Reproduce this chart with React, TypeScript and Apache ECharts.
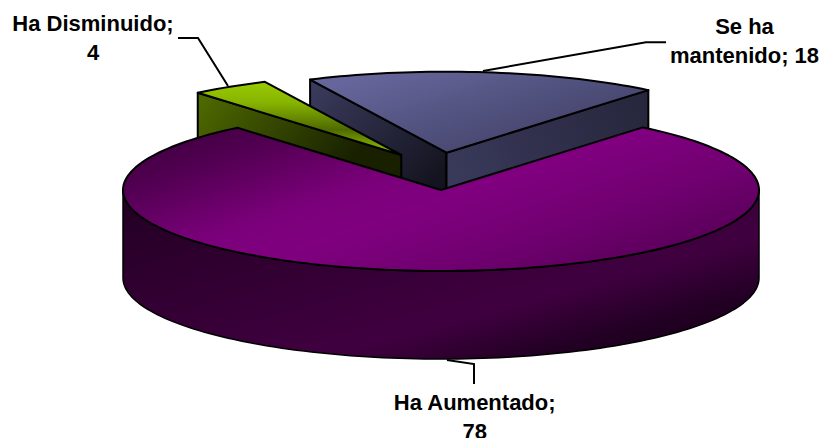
import React, { useEffect, useRef } from "react";
import * as echarts from "echarts";

const categories = ["Ha Aumentado", "Ha Disminuido", "Se ha mantenido"];
const values = [78, 4, 18];
const labelTexts = ["Ha Aumentado;\n78", "Ha Disminuido;\n4", "Se ha\nmantenido; 18"];

// Layout of the projected 3D pie
const CX = 441, CY = 190, RX = 318, RY = 81, DEPTH = 88, START_ANGLE = 50.6;
const explodes = [[0, 0], [-39.7, -35], [5.5, -37.3]];
const zOrders = [30, 20, 10];
const labelPositions = [[474.7, 416.5], [93, 37.5], [744.5, 41]];
const leaderLines = [
  [[447, 360], [474, 364], [474, 384]],
  [[178, 38], [198, 38], [228, 86]],
  [[666, 42.3], [646, 42.3], [483, 71]],
];

const grad = (x0: number, y0: number, x1: number, y1: number, stops: [number, string][]) =>
  new echarts.graphic.LinearGradient(x0, y0, x1, y1, stops.map(([offset, color]) => ({ offset, color })), true);

const topFills = [
  grad(200, 122, 294.5, 400, [
    [0, "#400040"],
    [0.13, "#500050"],
    [0.377, "#7a007a"],
    [0.516, "#800080"],
    [0.74, "#700070"],
    [0.89, "#600060"],
    [1, "#550055"],
  ]),
  grad(250, 82, 250, 152, [[0, "#99cc00"], [0.3, "#86b300"], [0.68, "#4f6a00"], [1, "#8fbf00"]]),
  grad(380, 70, 440, 260, [[0, "#66669c"], [0.55, "#46466e"], [1, "#2a2a44"]]),
];
const wallFill = grad(130, 215, 201.5, 474, [[0, "#250025"], [0.7, "#400040"], [0.9, "#220024"], [1, "#1c001c"]]);
const greenWall = grad(200, 95, 330, 190, [[0, "#4f6a00"], [1, "#182000"]]);
const blueLeftWall = grad(320, 80, 430, 185, [[0, "#3a3a5c"], [1, "#141420"]]);
const blueRightWall = grad(450, 190, 640, 90, [[0, "#3a3a5c"], [1, "#26263c"]]);

const pt = (cx: number, cy: number, deg: number): number[] => {
  const r = (deg * Math.PI) / 180;
  return [cx + RX * Math.cos(r), cy - RY * Math.sin(r)];
};
const arc = (cx: number, cy: number, a0: number, a1: number): number[][] => {
  const out: number[][] = [];
  const n = Math.max(2, Math.ceil(Math.abs(a1 - a0) / 1.5));
  for (let i = 0; i <= n; i++) out.push(pt(cx, cy, a0 + ((a1 - a0) * i) / n));
  return out;
};
const down = (p: number[]) => [p[0], p[1] + DEPTH];
const poly = (points: number[][], fill: any, z2: number, lineWidth = 2) => ({
  type: "polygon",
  z2,
  shape: { points },
  style: { fill, stroke: "#000", lineWidth, lineJoin: "round" },
});

const total = values.reduce((a, b) => a + b, 0);

function renderSlice(params: any, api: any) {
  const i = params.dataIndex;
  const before = values.slice(0, i).reduce((a, b) => a + b, 0);
  const a0 = START_ANGLE - (before / total) * 360;
  const a1 = a0 - (api.value(0) / total) * 360;
  const cx = CX + explodes[i][0];
  const cy = CY + explodes[i][1];
  const z = zOrders[i];
  const rim = arc(cx, cy, a0, a1);
  const apex = [cx, cy];
  const children: any[] = [];

  if (i === 0) {
    const front = arc(cx, cy, 0, -180);
    children.push(poly([...front, ...front.slice().reverse().map(down)], wallFill, z, 1.5));
  } else if (i === 1) {
    const corner = pt(cx, cy, a0);
    children.push(poly([corner, apex, down(apex), down(corner)], greenWall, z, 2));
  } else {
    const left = pt(cx, cy, a0);
    const right = pt(cx, cy, a1);
    children.push(poly([left, apex, down(apex), down(left)], blueLeftWall, z, 2));
    children.push(poly([right, apex, down(apex), down(right)], blueRightWall, z, 2));
  }
  children.push(poly([apex, ...rim], topFills[i], z + 1, 2));
  children.push({
    type: "polyline",
    z2: 50,
    shape: { points: leaderLines[i] },
    style: { fill: "none", stroke: "#000", lineWidth: 2 },
  });
  children.push({
    type: "text",
    z2: 50,
    x: labelPositions[i][0],
    y: labelPositions[i][1],
    style: {
      text: labelTexts[i],
      fill: "#000",
      font: 'bold 22px "Liberation Sans", Arial, sans-serif',
      lineHeight: 29,
      align: "center",
      verticalAlign: "middle",
    },
  });
  return { type: "group", children };
}

export default function App() {
  const ref = useRef<HTMLDivElement>(null);
  useEffect(() => {
    document.body.style.margin = "0";
    const chart = echarts.init(ref.current!, null, { renderer: "svg" });
    chart.setOption({
      animation: false,
      backgroundColor: "#fff",
      series: [
        {
          type: "custom",
          coordinateSystem: "none",
          silent: true,
          renderItem: renderSlice,
          data: values.map((v, i) => ({ name: categories[i], value: [v] })),
        },
      ],
    });
    return () => chart.dispose();
  }, []);
  return <div ref={ref} style={{ width: 823, height: 438 }} />;
}
